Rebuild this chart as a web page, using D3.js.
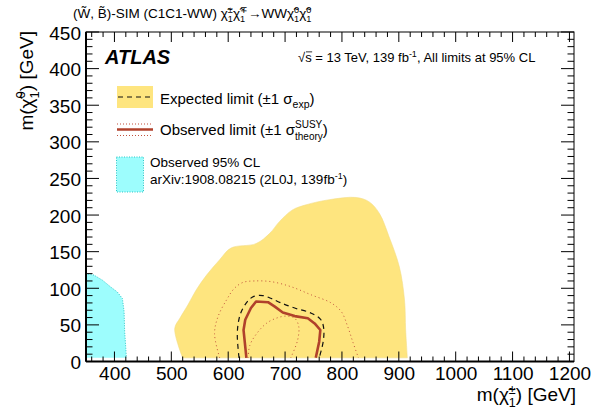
<!DOCTYPE html>
<html><head><meta charset="utf-8">
<script src="https://cdn.jsdelivr.net/npm/d3@7"></script>
<style>
html,body{margin:0;padding:0;background:#fff;}
svg{display:block;font-family:"Liberation Sans",Arial,Helvetica,sans-serif;}
text{white-space:pre;}
</style></head>
<body><svg id="c" width="593" height="417"></svg>
<script>
// ---------- data (m(chargino) [GeV], m(neutralino) [GeV]) ----------
const xTickValues = [400,500,600,700,800,900,1000,1100,1200];
const yTickValues = [0,50,100,150,200,250,300,350,400,450];

const expBandMC = [520,506,515,529,544,562,585,605,649,673,690,713,737,778,825,848,866,883,901,910,912,915];
const expBandMN = [5,45,59,77,98,118,139,155,161,175,191,207,214,221,224,218,202,170,129,84,43,5];

const expMC = [619,616,618,623,634,645,661,676,693,717,746,763,768,767,760];
const expMN = [5,36,54,68,82,89,90,86,80,73,66,57,45,27,5];

const obsMC = [632,627,630,640,649,670,682,696,717,740,752,762,760,754];
const obsMN = [5,43,57,73,82,81,75,67,62,59,52,43,27,5];

const obsUpMC = [585,576,582,597,611,626,646,676,711,746,781,799,810,819,829];
const obsUpMN = [5,38,61,84,100,108,110,109,102,91,80,68,48,27,5];

const obsDnMC = [635,638,650,667,684,702,717,724,722,710];
const obsDnMN = [5,22,38,52,59,62,59,48,29,5];

const prevMC = [345,351,364,379,393,405,414,417,418,420,421,345];
const prevMN = [120,120,118,111,102,95,86,68,41,18,5,5];

// ---------- layout ----------
const L=86, R=574, T=32, B=361.5;
const FONT='"Liberation Sans",Arial,Helvetica,sans-serif';
const svg=d3.select('#c');
const x=d3.scaleLinear().domain([350,1208]).range([L,R]);
const y=d3.scaleLinear().domain([0,450]).range([B,T]);

const C_YEL='#fee57f', C_CYAN='#9dfdfd', C_CYANB='#2fc6c6', C_RED='#b0412b', C_DOT='#c0513c';

const zip=(a,b)=>a.map((v,i)=>[v,b[i]]);
const line=d3.line().x(d=>x(d[0])).y(d=>y(d[1]));
const smooth=d3.line().x(d=>x(d[0])).y(d=>y(d[1])).curve(d3.curveCatmullRom.alpha(0.5));

svg.append('defs').append('clipPath').attr('id','clip')
  .append('rect').attr('x',L).attr('y',T).attr('width',R-L).attr('height',B-T);
const plot=svg.append('g').attr('clip-path','url(#clip)');

plot.append('path').attr('d',smooth(zip(expBandMC,expBandMN))+'Z')
  .attr('fill',C_YEL).attr('stroke','#f3dd88').attr('stroke-width',0.6);
plot.append('path').attr('d',line(zip(prevMC,prevMN))+'Z')
  .attr('fill',C_CYAN).attr('stroke','none');
plot.append('path').attr('d',line(zip(prevMC.slice(0,11),prevMN.slice(0,11))))
  .attr('fill','none').attr('stroke',C_CYANB).attr('stroke-width',1).attr('stroke-dasharray','1,1.5');

plot.append('path').attr('d',smooth(zip(obsUpMC,obsUpMN))).attr('fill','none')
  .attr('stroke',C_DOT).attr('stroke-width',1).attr('stroke-dasharray','1,3');
plot.append('path').attr('d',smooth(zip(obsDnMC,obsDnMN))).attr('fill','none')
  .attr('stroke',C_DOT).attr('stroke-width',1).attr('stroke-dasharray','1,3');
plot.append('path').attr('d',smooth(zip(expMC,expMN))).attr('fill','none')
  .attr('stroke','#111').attr('stroke-width',1.2).attr('stroke-dasharray','5,4');
plot.append('path').attr('d',line(zip(obsMC,obsMN))).attr('fill','none')
  .attr('stroke',C_RED).attr('stroke-width',2.6).attr('stroke-linejoin','round');

// ---------- axes ----------
const ax=svg.append('g').attr('stroke','#000').attr('fill','none');
ax.append('rect').attr('x',L).attr('y',T).attr('width',R-L).attr('height',B-T).attr('stroke-width',1);
ax.append('line').attr('x1',L).attr('x2',R).attr('y1',B).attr('y2',B).attr('stroke-width',2);
ax.append('line').attr('x1',L).attr('x2',L).attr('y1',T).attr('y2',B).attr('stroke-width',2);

const xMinor=d3.range(360,1208,20), yMinor=d3.range(0,451,10);
xMinor.forEach(v=>{
  const major=v%100===0, len=major?10:5;
  ax.append('line').attr('x1',x(v)).attr('x2',x(v)).attr('y1',B).attr('y2',B-len).attr('stroke-width',1);
  ax.append('line').attr('x1',x(v)).attr('x2',x(v)).attr('y1',T).attr('y2',T+len).attr('stroke-width',1);
});
yMinor.forEach(v=>{
  const major=v%50===0, len=major?13:6.5;
  ax.append('line').attr('x1',L).attr('x2',L+len).attr('y1',y(v)).attr('y2',y(v)).attr('stroke-width',1);
  ax.append('line').attr('x1',R).attr('x2',R-len).attr('y1',y(v)).attr('y2',y(v)).attr('stroke-width',1);
});

const xAxisG=svg.append('g').attr('transform',`translate(0,${B})`)
  .call(d3.axisBottom(x).tickValues(xTickValues).tickSize(0).tickPadding(0).tickFormat(d3.format('d')));
xAxisG.select('.domain').remove();
xAxisG.selectAll('text').attr('font-family',FONT).attr('font-size',19).attr('fill','#000')
  .attr('dy',null).attr('y',18);
const yAxisG=svg.append('g').attr('transform',`translate(${L},0)`)
  .call(d3.axisLeft(y).tickValues(yTickValues).tickSize(0).tickPadding(0).tickFormat(d3.format('d')));
yAxisG.select('.domain').remove();
yAxisG.selectAll('text').attr('font-family',FONT).attr('font-size',19).attr('fill','#000')
  .attr('dy',null).attr('x',-5).attr('y',7);

// ---------- rich text helper ----------
function rich(parent,x0,y0,parts,fs,anchor,attrs){
  const g=parent.append('g');
  let cx=0;
  parts.forEach(p=>{
    const pf=p.fs||fs;
    if(p.t){
      const t=g.append('text').attr('x',cx).attr('y',0).attr('font-size',pf)
        .attr('font-family',FONT).attr('fill','#000').attr('xml:space','preserve').text(p.t);
      if(p.bold) t.attr('font-weight','bold');
      if(p.italic) t.attr('font-style','italic');
      const w=t.node().getComputedTextLength();
      if(p.over) g.append('line').attr('x1',cx+p.over[0]).attr('x2',cx+w+0.5).attr('y1',-pf*0.78).attr('y2',-pf*0.78)
        .attr('stroke','#000').attr('stroke-width',0.8);
      cx+=w;
    }
    let w2=0;
    if(p.sup){
      const s=g.append('text').attr('x',cx+(p.supdx||0)).attr('y',-(p.supy||fs*0.42)).attr('font-size',p.ss||fs*0.68)
        .attr('font-family',FONT).attr('fill','#000').text(p.sup);
      w2=Math.max(w2,s.node().getComputedTextLength()+(p.supdx||0));
    }
    if(p.sub){
      const s=g.append('text').attr('x',cx+(p.subdx||0)).attr('y',(p.suby||fs*0.25)).attr('font-size',p.ss||fs*0.68)
        .attr('font-family',FONT).attr('fill','#000').text(p.sub);
      w2=Math.max(w2,s.node().getComputedTextLength()+(p.subdx||0));
    }
    cx+=w2;
  });
  let dx=0;
  if(anchor==='end') dx=-cx; else if(anchor==='middle') dx=-cx/2;
  g.attr('transform',(attrs&&attrs.rotate)?`translate(${x0},${y0}) rotate(${attrs.rotate}) translate(${dx},0)`:`translate(${x0+dx},${y0})`);
  return g;
}
const CHI='\u03C7\u0303';

// top title
rich(svg,73,18,[
  {t:'(W\u0303, B\u0303)-SIM (C1C1-WW) '},
  {t:CHI,sup:'\u00B1',sub:'1',supy:5.5,suby:4},
  {t:CHI,sup:'\u2213',sub:'1',supy:5.5,suby:4},
  {t:'\u2192WW'},
  {t:CHI,sup:'0',sub:'1',supy:5.5,suby:4},
  {t:CHI,sup:'0',sub:'1',supy:5.5,suby:4}
],13.5,'start');

// ATLAS label
rich(svg,105,64,[{t:'ATLAS',bold:true,italic:true}],20,'start');
rich(svg,298,62,[
  {t:'\u221As',over:[8]},{t:' = 13 TeV, 139 fb',sup:'-1',supy:5,ss:9},{t:', All limits at 95% CL'}
],13,'start');

// axis titles
rich(svg,R+2,401,[{t:'m('},{t:CHI,sup:'\u00B1',sub:'1',supy:7,suby:6,ss:12.5},{t:') [GeV]'}],19,'end');
rich(svg,33,31,[{t:'m('},{t:CHI,sup:'0',sub:'1',supy:8,suby:6,ss:13},{t:') [GeV]'}],19,'end',{rotate:-90});

// ---------- legend ----------
const lg=svg.append('g');
lg.append('rect').attr('x',117).attr('y',86).attr('width',36).attr('height',22).attr('fill',C_YEL);
lg.append('line').attr('x1',118).attr('x2',152).attr('y1',97).attr('y2',97).attr('stroke','#111').attr('stroke-width',1.2).attr('stroke-dasharray','5,4');
rich(svg,160,104,[{t:'Expected limit (\u00B11 \u03C3',sub:'exp',suby:4,ss:10.5},{t:')'}],15,'start');

lg.append('line').attr('x1',117).attr('x2',153).attr('y1',124).attr('y2',124).attr('stroke',C_DOT).attr('stroke-width',1).attr('stroke-dasharray','1,2');
lg.append('line').attr('x1',117).attr('x2',153).attr('y1',129.5).attr('y2',129.5).attr('stroke',C_RED).attr('stroke-width',2.6);
lg.append('line').attr('x1',117).attr('x2',153).attr('y1',135.5).attr('y2',135.5).attr('stroke',C_DOT).attr('stroke-width',1).attr('stroke-dasharray','1,2');
rich(svg,160,135,[{t:'Observed limit (\u00B11 \u03C3',sup:'SUSY',sub:'theory',supy:7,suby:5,ss:10},{t:')'}],15,'start');

lg.append('rect').attr('x',116.5).attr('y',157).attr('width',27).attr('height',35).attr('fill',C_CYAN)
  .attr('stroke',C_CYANB).attr('stroke-width',1).attr('stroke-dasharray','1,1.5');
rich(svg,150,167,[{t:'Observed 95% CL'}],13.5,'start');
rich(svg,150,184,[{t:'arXiv:1908.08215 (2L0J, 139fb',sup:'-1',supy:5,ss:9},{t:')'}],13.5,'start');
</script></body></html>
